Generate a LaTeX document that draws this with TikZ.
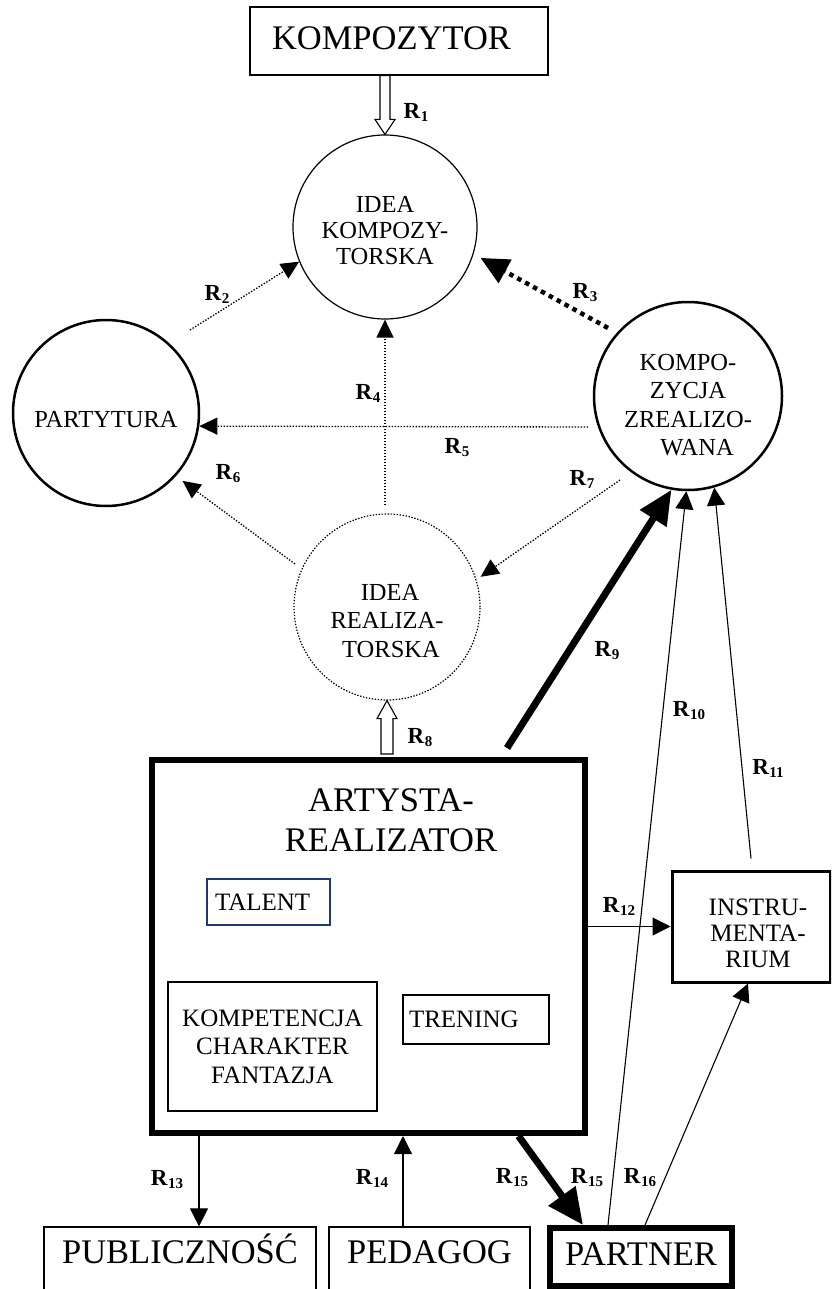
\documentclass[tikz,border=0pt]{standalone}
\usepackage{fontspec}
\setmainfont{Liberation Serif}
\usetikzlibrary{arrows.meta,calc}
\definecolor{navyline}{RGB}{31,56,120}
\newcommand\RR[1]{\textbf{R}\kern0.3pt\raisebox{-3pt}{\fontsize{15}{15}\selectfont\bfseries #1}}
\begin{document}
\begin{tikzpicture}[x=1pt,y=-1pt,
  txtbig/.style={font=\fontsize{34.5}{40}\selectfont},
  txtbox/.style={font=\fontsize{25}{28.5}\selectfont},
  txtcirc/.style={font=\fontsize{24.5}{28.5}\selectfont},
  rlab/.style={font=\fontsize{23}{24}\selectfont, inner sep=0pt},
  plainbox/.style={draw, line width=1.2pt, rectangle, inner sep=0pt},
  circ/.style={draw, circle, inner sep=0pt},
  thinarr/.style={line width=1.1pt, -{Triangle[length=18pt,width=18pt]}},
  dotarr/.style={line width=1.3pt, dash pattern=on 1.4pt off 1.6pt, -{Triangle[length=18pt,width=17pt]}},
  dotbig/.style={line width=4.5pt, dash pattern=on 4.5pt off 4.5pt, -{Triangle[length=28pt,width=26pt]}},
  boldarr/.style={line width=7pt, -{Triangle[length=34pt,width=30pt]}},
  hollow/.style={draw, line width=1.1pt, fill=white, line join=miter},
]
\useasboundingbox (0,0) rectangle (831,1289);
\clip (0,0) rectangle (831,1289);

% boxes
\node[plainbox, txtbig, minimum width=298pt, minimum height=68pt, text width=254pt, align=left, text height=22pt, text depth=4pt] (komp) at (399,41) {KOMPOZYTOR};

\node[draw, line width=6pt, minimum width=433pt, minimum height=373pt, inner sep=0pt] (art) at (368.5,946.5) {};
\node[txtbig, align=center] (artt) at (391,820) {ARTYSTA-\\REALIZATOR};
\node[draw=navyline, line width=1.3pt, minimum width=123pt, minimum height=46pt, text width=107pt, align=left, inner sep=0pt, txtbox] (tal) at (268.5,902) {TALENT};
\node[plainbox, txtbox, minimum width=209pt, minimum height=129pt, align=center] (kcf) at (272.5,1046.5) {KOMPETENCJA\\CHARAKTER\\FANTAZJA};
\node[plainbox, txtbox, minimum width=146pt, minimum height=49pt, text width=134pt, align=left] (tre) at (476,1019.5) {TRENING};
\node[draw, line width=3pt, minimum width=158pt, minimum height=111pt, inner sep=0pt,
  label={[align=center, font=\fontsize{25}{26}\selectfont, shift={(7pt,-6.5pt)}]center:{INSTRU-\\MENTA-\\RIUM}}] (inst) at (751,926.5) {};

\node[plainbox, txtbig, minimum width=272pt, minimum height=72pt, text height=22pt, text depth=21pt] (pub) at (180,1263) {PUBLICZNOŚĆ};
\node[plainbox, txtbig, minimum width=201pt, minimum height=72pt, text height=22pt, text depth=21pt] (ped) at (429.5,1263) {PEDAGOG};
\node[draw, line width=6pt, minimum width=182pt, minimum height=58pt, inner sep=0pt, txtbig, text height=22pt, text depth=5pt] (prt) at (641,1257) {PARTNER};

% circles
\node[circ, line width=1.2pt, minimum size=184pt,
  label={[align=center, font=\fontsize{24.5}{26}\selectfont, yshift=-4pt]center:{IDEA\\KOMPOZY-\\TORSKA}}] (ik) at (385,227) {};
\node[circ, line width=2.5pt, minimum size=186pt,
  label={[txtcirc, yshift=-7pt]center:PARTYTURA}] (part) at (106,413) {};
\node[circ, line width=2.5pt, minimum size=188pt,
  label={[align=center, txtcirc, yshift=-9pt]center:{KOMPO-\\ZYCJA\hspace*{10pt}\\ZREALIZO-\\\hspace*{18pt}WANA}}] (kz) at (688,396) {};
\node[circ, line width=1.2pt, dash pattern=on 1.4pt off 1.6pt, minimum size=186pt,
  label={[align=center, txtcirc, yshift=-14pt]center:{\hspace*{6pt}IDEA\\REALIZA-\hspace*{14pt}\\\hspace*{8pt}TORSKA}}] (ir) at (387,607) {};

% hollow block arrows
\coordinate (r1s) at (ik.north |- komp.south);
\coordinate (r1e) at (ik.north);
\draw[hollow] ($(r1s)+(-5,0)$) -- ($(r1e)+(-5,-15)$) -- ($(r1e)+(-10,-15)$) -- (r1e) -- ($(r1e)+(10,-15)$) -- ($(r1e)+(5,-15)$) -- ($(r1s)+(5,0)$) -- cycle;
\coordinate (r8s) at (ir.south |- art.north);
\coordinate (r8e) at (ir.south);
\draw[hollow] ($(r8s)+(-6,-3)$) -- ($(r8e)+(-6,18)$) -- ($(r8e)+(-10,18)$) -- (r8e) -- ($(r8e)+(10,18)$) -- ($(r8e)+(6,18)$) -- ($(r8s)+(6,-3)$) -- cycle;

% dotted connectors
\coordinate (r2s) at (190,330);
\draw[dotarr] (r2s) -- (ik.202);
\coordinate (r3s) at (608,328);
\draw[dotbig, shorten >=8pt] (r3s) -- (ik.343);
\coordinate (r4s) at (385,505);
\draw[dotarr] (r4s) -- (ik.south);
\coordinate (r5s) at (588,427);
\draw[dotarr] (r5s) -- (part.-8.5);
\coordinate (r6s) at (295,564);
\draw[dotarr, shorten >=8pt] (r6s) -- (part.318);
\coordinate (r7s) at (620,480);
\draw[dotarr, shorten >=5pt] (r7s) -- (ir.17);

% solid connectors
\coordinate (r9s) at (507,748);
\draw[boldarr] (r9s) -- (kz.260);
\coordinate (r10s) at ([xshift=-33pt]prt.north);
\draw[thinarr] (r10s) -- (kz.269);
\coordinate (r11s) at ([yshift=11pt]inst.north);
\draw[thinarr] (r11s) -- (kz.286);
\draw[thinarr] (inst.west -| art.east) -- (inst.west);
\coordinate (r13e) at ([xshift=19pt]pub.north);
\draw[thinarr] (r13e |- art.south) -- (r13e);
\coordinate (r14s) at ([xshift=-26.5pt]ped.north);
\draw[thinarr] (r14s) -- (r14s |- art.south);
\coordinate (r15s) at ([xshift=150pt]art.south);
\coordinate (r15e) at ([xshift=36pt]prt.north west);
\draw[line width=7pt, -{Triangle[length=36pt,width=32pt]}] (r15s) -- (r15e);
\coordinate (r16s) at ([xshift=4pt]prt.north);
\coordinate (r16e) at ([xshift=-3pt]inst.south);
\draw[thinarr] (r16s) -- (r16e);

% labels
\node[rlab] (l1) at (416,112) {\RR{1}};
\node[rlab] (l2) at (217,294) {\RR{2}};
\node[rlab] (l3) at (585,293) {\RR{3}};
\node[rlab] (l4) at (368,393) {\RR{4}};
\node[rlab] (l5) at (457,448) {\RR{5}};
\node[rlab] (l6) at (228,474) {\RR{6}};
\node[rlab] (l7) at (582,479) {\RR{7}};
\node[rlab] (l8) at (420,738) {\RR{8}};
\node[rlab] (l9) at (607,651) {\RR{9}};
\node[rlab] (l10) at (689,711) {\RR{10}};
\node[rlab] (l11) at (768,768) {\RR{11}};
\node[rlab] (l12) at (619,906) {\RR{12}};
\node[rlab] (l13) at (167,1180) {\RR{13}};
\node[rlab] (l14) at (372,1178) {\RR{14}};
\node[rlab] (l15a) at (512,1178) {\RR{15}};
\node[rlab] (l15b) at (587,1178) {\RR{15}};
\node[rlab] (l16) at (640,1178) {\RR{16}};
\end{tikzpicture}
\end{document}
